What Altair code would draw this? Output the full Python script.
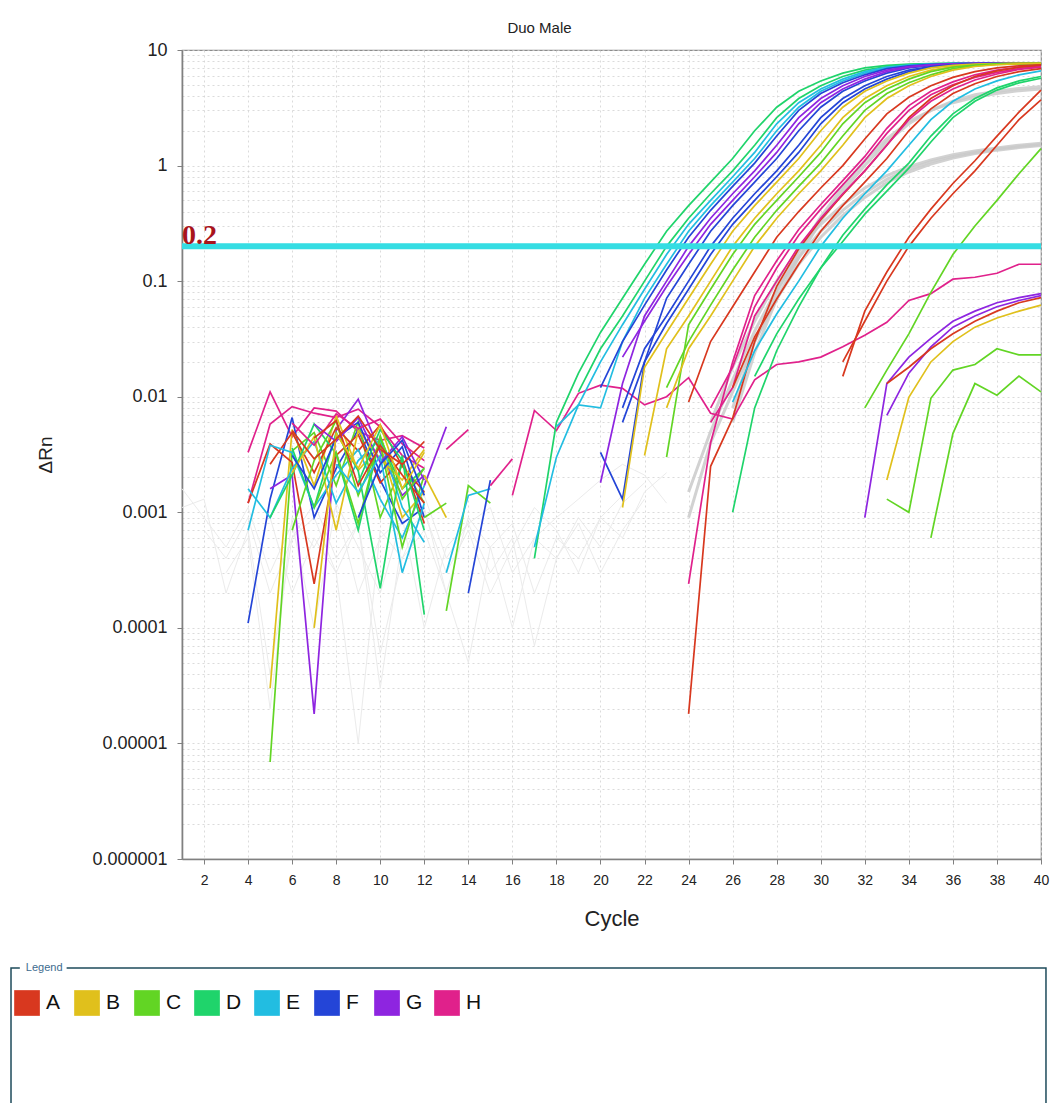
import altair as alt
import pandas as pd

# ---------------- data ----------------
ROWS = ["A", "B", "C", "D", "E", "F", "G", "H"]
ROW_COLORS = ["#d8381f", "#e0c01c", "#62d524", "#1fd46b", "#22bde1", "#2445d7", "#8e25e0", "#e0218b"]

CYCLE_TICKS = list(range(2, 41, 2))
DECADES = [0.000001, 0.00001, 0.0001, 0.001, 0.01, 0.1, 1, 10]
MINOR_STEPS = [1, 2, 3, 4, 5, 6, 7, 8, 9]
THRESHOLD = 0.2
THRESHOLD_TEXT = "0.2"

# (row, first cycle, delta Rn values per cycle)
AMPLIFIED = [
    ("D", 17, [0.0004, 0.006, 0.016, 0.036, 0.071, 0.14, 0.27, 0.45, 0.72, 1.15, 2.0, 3.2, 4.4, 5.4, 6.3, 7.0, 7.35, 7.55, 7.62, 7.65, 7.66, 7.67, 7.68, 7.68]),
    ("D", 19, [0.011, 0.026, 0.05, 0.1, 0.2, 0.35, 0.57, 0.9, 1.5, 2.6, 3.8, 4.9, 5.9, 6.7, 7.2, 7.45, 7.6, 7.65, 7.66, 7.67, 7.68, 7.68]),
    ("E", 18, [0.0055, 0.0085, 0.008, 0.03, 0.071, 0.14, 0.27, 0.45, 0.72, 1.15, 2.0, 3.2, 4.4, 5.4, 6.3, 7.0, 7.35, 7.55, 7.62, 7.65, 7.66, 7.67, 7.67]),
    ("E", 17, [0.0005, 0.003, 0.0085, 0.02, 0.042, 0.085, 0.17, 0.31, 0.5, 0.8, 1.3, 2.3, 3.5, 4.6, 5.6, 6.5, 7.1, 7.4, 7.58, 7.64, 7.66, 7.66, 7.67, 7.67]),
    ("F", 20, [0.012, 0.03, 0.062, 0.125, 0.24, 0.41, 0.66, 1.05, 1.8, 3.0, 4.2, 5.2, 6.1, 6.9, 7.3, 7.52, 7.62, 7.65, 7.67, 7.68, 7.68]),
    ("F", 20, [0.0033, 0.0013, 0.02, 0.071, 0.14, 0.27, 0.45, 0.72, 1.15, 2.0, 3.2, 4.4, 5.4, 6.3, 7.0, 7.35, 7.55, 7.62, 7.65, 7.66, 7.66]),
    ("G", 20, [0.0018, 0.013, 0.05, 0.1, 0.2, 0.35, 0.57, 0.9, 1.5, 2.6, 3.8, 4.9, 5.9, 6.7, 7.2, 7.45, 7.6, 7.65, 7.66, 7.67, 7.67]),
    ("G", 21, [0.022, 0.045, 0.09, 0.17, 0.31, 0.5, 0.8, 1.3, 2.3, 3.5, 4.6, 5.6, 6.5, 7.1, 7.4, 7.57, 7.63, 7.65, 7.66, 7.66]),
    ("F", 21, [0.008, 0.026, 0.05, 0.1, 0.2, 0.35, 0.57, 0.9, 1.5, 2.6, 3.8, 4.9, 5.9, 6.7, 7.2, 7.45, 7.6, 7.65, 7.66, 7.66]),
    ("F", 21, [0.006, 0.02, 0.043, 0.085, 0.17, 0.31, 0.5, 0.8, 1.3, 2.3, 3.5, 4.6, 5.6, 6.5, 7.1, 7.4, 7.58, 7.64, 7.66, 7.66]),
    ("B", 21, [0.0011, 0.018, 0.036, 0.071, 0.14, 0.27, 0.45, 0.72, 1.15, 2.0, 3.2, 4.4, 5.4, 6.3, 7.0, 7.35, 7.55, 7.62, 7.65, 7.66]),
    ("B", 22, [0.0031, 0.026, 0.05, 0.1, 0.2, 0.35, 0.57, 0.9, 1.5, 2.6, 3.8, 4.9, 5.9, 6.7, 7.2, 7.45, 7.6, 7.65, 7.66]),
    ("C", 23, [0.003, 0.042, 0.085, 0.17, 0.31, 0.5, 0.8, 1.3, 2.3, 3.5, 4.6, 5.6, 6.5, 7.1, 7.4, 7.58, 7.64, 7.66]),
    ("C", 23, [0.012, 0.03, 0.062, 0.125, 0.24, 0.41, 0.66, 1.05, 1.8, 3.0, 4.2, 5.2, 6.1, 6.9, 7.3, 7.5, 7.6, 7.63]),
    ("B", 23, [0.008, 0.026, 0.05, 0.1, 0.2, 0.35, 0.57, 0.9, 1.5, 2.6, 3.8, 4.9, 5.9, 6.7, 7.2, 7.45, 7.6, 7.65]),
    ("A", 24, [0.009, 0.03, 0.06, 0.12, 0.24, 0.4, 0.64, 1.0, 1.7, 2.8, 3.9, 4.9, 5.8, 6.5, 7.0, 7.3, 7.45]),
    ("H", 24, [0.00024, 0.004, 0.02, 0.075, 0.15, 0.28, 0.46, 0.74, 1.2, 2.1, 3.3, 4.4, 5.3, 6.1, 6.7, 7.1, 7.3]),
    ("H", 25, [0.008, 0.018, 0.06, 0.13, 0.25, 0.42, 0.68, 1.1, 1.9, 3.0, 4.1, 5.0, 5.8, 6.4, 6.9, 7.2]),
    ("A", 24, [0.000018, 0.0025, 0.0065, 0.03, 0.09, 0.19, 0.34, 0.56, 0.9, 1.5, 2.6, 3.8, 4.9, 5.9, 6.6, 7.1, 7.4]),
    ("H", 25, [0.006, 0.012, 0.05, 0.1, 0.2, 0.35, 0.57, 0.9, 1.5, 2.5, 3.6, 4.6, 5.5, 6.2, 6.8, 7.1]),
    ("A", 26, [0.012, 0.033, 0.07, 0.14, 0.27, 0.45, 0.72, 1.15, 2.0, 3.1, 4.2, 5.1, 5.9, 6.5, 6.9]),
    ("E", 26, [0.009, 0.025, 0.052, 0.1, 0.2, 0.35, 0.57, 0.9, 1.5, 2.5, 3.6, 4.6, 5.4, 6.1, 6.6]),
    ("D", 26, [0.001, 0.008, 0.025, 0.06, 0.13, 0.25, 0.42, 0.68, 1.05, 1.8, 2.8, 3.8, 4.7, 5.4, 5.9]),
    ("D", 27, [0.015, 0.035, 0.07, 0.13, 0.22, 0.38, 0.6, 0.95, 1.6, 2.6, 3.6, 4.5, 5.2, 5.7]),
    ("A", 31, [0.015, 0.055, 0.12, 0.24, 0.42, 0.7, 1.1, 1.8, 2.9, 4.5]),
    ("A", 31, [0.02, 0.045, 0.1, 0.2, 0.35, 0.57, 0.9, 1.5, 2.5, 3.7]),
    ("C", 32, [0.008, 0.017, 0.035, 0.08, 0.17, 0.3, 0.5, 0.85, 1.4]),
]

WEAK = [
    ("H", 16, [0.0014, 0.0076, 0.0051, 0.0107, 0.0126, 0.0118, 0.0085, 0.01, 0.0146, 0.0072, 0.0064, 0.014, 0.019, 0.02, 0.022, 0.027, 0.034, 0.044, 0.068, 0.078, 0.104, 0.108, 0.117, 0.14, 0.14]),
    ("G", 32, [0.0009, 0.013, 0.022, 0.032, 0.045, 0.055, 0.065, 0.072, 0.078]),
    ("G", 33, [0.0069, 0.016, 0.027, 0.04, 0.05, 0.06, 0.068, 0.075]),
    ("B", 33, [0.0019, 0.0099, 0.02, 0.03, 0.04, 0.048, 0.055, 0.062]),
    ("A", 33, [0.013, 0.018, 0.026, 0.035, 0.045, 0.055, 0.065, 0.072]),
    ("C", 33, [0.0013, 0.001, 0.0097, 0.017, 0.019, 0.026, 0.023, 0.023]),
    ("C", 35, [0.0006, 0.0048, 0.013, 0.0103, 0.0151, 0.011]),
]

BASELINE_NOISE = [
    ("H", 4, [0.0033, 0.011, 0.0045, 0.008, 0.0075, 0.005, 0.0042, 0.0046, 0.0036]),
    ("H", 4, [0.0012, 0.0058, 0.0082, 0.0072, 0.0066, 0.0078, 0.0055, 0.0031, 0.0024]),
    ("F", 4, [0.00011, 0.0013, 0.0066, 0.0009, 0.0024, 0.0052, 0.0019, 0.0008, 0.0011]),
    ("G", 5, [0.0016, 0.0021, 0.000018, 0.0052, 0.0095, 0.0033, 0.0014, 0.0021]),
    ("C", 5, [0.0000069, 0.0034, 0.0049, 0.0017, 0.0061, 0.0009, 0.0026, 0.0012]),
    ("B", 5, [0.00003, 0.0052, 0.0017, 0.0068, 0.0023, 0.0038, 0.0009, 0.0015]),
    ("A", 4, [0.0012, 0.0039, 0.0027, 0.00024, 0.0031, 0.0047, 0.0018, 0.0029, 0.0008]),
    ("A", 5, [0.0026, 0.0049, 0.0022, 0.0054, 0.0034, 0.0057, 0.0025, 0.0015]),
    ("E", 4, [0.0007, 0.0038, 0.0033, 0.0011, 0.0021, 0.0035, 0.0013, 0.0006, 0.0017]),
    ("E", 4, [0.0016, 0.0009, 0.0024, 0.0041, 0.0012, 0.0028, 0.0043, 0.0011, 0.00055]),
    ("D", 5, [0.0009, 0.0021, 0.0058, 0.0032, 0.0007, 0.0044, 0.0016, 0.0024]),
    ("D", 6, [0.0036, 0.0011, 0.0049, 0.0023, 0.00022, 0.0031, 0.00013]),
    ("C", 6, [0.0007, 0.0028, 0.0062, 0.0014, 0.0039, 0.0005, 0.0021]),
    ("B", 6, [0.0022, 0.0045, 0.0007, 0.0051, 0.0029, 0.0019, 0.0035]),
    ("F", 6, [0.0031, 0.0016, 0.0044, 0.006, 0.0022, 0.0037, 0.0009]),
    ("G", 7, [0.0058, 0.0041, 0.0066, 0.0027, 0.0045, 0.0019]),
    ("H", 6, [0.0059, 0.0038, 0.0071, 0.0053, 0.0064, 0.0039, 0.0028]),
    ("C", 7, [0.0011, 0.0033, 0.0008, 0.0046, 0.0013, 0.0024]),
    ("E", 8, [0.0026, 0.0015, 0.0031, 0.0003, 0.0012]),
    ("A", 7, [0.0044, 0.0062, 0.0017, 0.0038, 0.0021, 0.0012]),
    ("D", 9, [0.0018, 0.0052, 0.0028, 0.0007]),
    ("B", 7, [0.0001, 0.0048, 0.0024, 0.0057, 0.0016, 0.0033]),
    ("F", 9, [0.0009, 0.0026, 0.0042, 0.0014]),
    ("A", 6, [0.0051, 0.0029, 0.0043, 0.0068, 0.0035, 0.0026, 0.0041]),
    ("G", 12, [0.0017, 0.0055]),
    ("H", 13, [0.0035, 0.0052]),
    ("C", 13, [0.00014, 0.0017, 0.0012]),
    ("E", 13, [0.0003, 0.0014, 0.0016]),
    ("F", 14, [0.0002, 0.0019]),
    ("H", 15, [0.0017, 0.0029]),
    ("B", 12, [0.0021, 0.0009]),
    ("C", 12, [0.0009, 0.0012]),
]

# unselected wells, drawn in grey: (first cycle, values)
GREY_BASELINE = [
    (1, [0.0016, 0.0009, 0.0005, 0.0011, 0.0003, 0.0008, 0.0001, 0.0012, 0.0005, 0.0002, 0.0009, 0.0014, 0.0004, 0.0008, 0.0011, 0.0003, 0.0006, 0.0009, 0.0013, 0.0019, 0.0026, 0.0021, 0.0012]),
    (1, [0.0011, 0.0013, 0.0002, 0.0007, 0.00004, 0.0006, 0.0009, 0.0003, 0.00001, 0.0007, 0.0004, 0.0011, 0.0002, 0.00005, 0.0005, 0.0008, 0.0002, 0.0006, 0.0004, 0.0009, 0.0014]),
    (2, [0.0007, 0.0004, 0.0009, 0.0002, 0.0006, 0.0012, 0.0004, 0.0008, 0.00003, 0.0006, 0.001, 0.0003, 0.0007, 0.0002, 0.0005, 0.0011, 0.0007, 0.0003, 0.0009, 0.0006, 0.0015, 0.0022]),
    (3, [0.0003, 0.0006, 0.00002, 0.0009, 0.0005, 0.0011, 0.0002, 0.0006, 0.0009, 0.0001, 0.0005, 0.0008, 0.0003, 0.0006, 0.00007, 0.0004, 0.0009, 0.0005, 0.0012, 0.0018]),
    (5, [0.0009, 0.0002, 0.0006, 0.0003, 0.0008, 0.00006, 0.0004, 0.0007, 0.0002, 0.0009, 0.0005, 0.0001, 0.0006, 0.0004, 0.0008, 0.0003, 0.0007, 0.0013]),
]
GREY_AMPLIFIED = [
    (24, [0.0015, 0.005, 0.014, 0.037, 0.085, 0.16, 0.27, 0.41, 0.58, 0.76, 0.93, 1.08, 1.2, 1.3, 1.39, 1.46, 1.52]),
    (24, [0.0009, 0.004, 0.011, 0.03, 0.07, 0.14, 0.24, 0.37, 0.53, 0.71, 0.88, 1.03, 1.16, 1.27, 1.36, 1.43, 1.49]),
    (25, [0.006, 0.018, 0.045, 0.1, 0.19, 0.31, 0.46, 0.64, 0.82, 0.98, 1.12, 1.24, 1.34, 1.42, 1.5, 1.56]),
    (26, [0.008, 0.03, 0.08, 0.18, 0.36, 0.65, 1.1, 1.7, 2.4, 3.0, 3.5, 3.9, 4.2, 4.45, 4.6]),
    (26, [0.006, 0.024, 0.07, 0.16, 0.33, 0.6, 1.0, 1.6, 2.3, 3.0, 3.6, 4.1, 4.4, 4.65, 4.8]),
]

# legend layout (slots of the legend strip)
LEGEND_TITLE = "Legend"
LEGEND_SLOTS = list(range(len(ROWS)))

# ---------------- tables ----------------
def curves_table(curves, kind):
    recs = []
    for k, (row, start, vals) in enumerate(curves):
        for i, v in enumerate(vals):
            recs.append({"id": f"{kind}{k}", "row": row, "cycle": start + i, "dRn": v})
    return pd.DataFrame(recs)

def grey_table(curves, kind):
    recs = []
    for k, (start, vals) in enumerate(curves):
        for i, v in enumerate(vals):
            recs.append({"id": f"{kind}{k}", "cycle": start + i, "dRn": v})
    return pd.DataFrame(recs)

colored_df = pd.concat([
    curves_table(BASELINE_NOISE, "n"),
    curves_table(WEAK, "w"),
    curves_table(AMPLIFIED, "a"),
], ignore_index=True)
grey_base_df = grey_table(GREY_BASELINE, "gb")
grey_amp_df = grey_table(GREY_AMPLIFIED, "ga")

Y_GRID = [round(m * d, 12) for d in DECADES[:-1] for m in MINOR_STEPS] + [DECADES[-1]]

FONT = "Liberation Sans"
NARROW = "Liberation Sans Narrow, Liberation Sans, Arial, sans-serif"
DEC_TEST = "abs(log(datum.value) / LN10 - round(log(datum.value) / LN10)) < 0.001"

x_scale = alt.Scale(domain=[1, 40], nice=False, zero=False)
y_scale = alt.Scale(type="log", domain=[DECADES[0], DECADES[-1]], nice=False)

x_axis = alt.Axis(
    title="Cycle", values=CYCLE_TICKS, grid=True, gridDash=[2, 3], gridColor="#d2d2d2",
    gridWidth=0.8, tickSize=5, tickColor="#808080", domainColor="#808080", domainWidth=1.6,
    labelFont=NARROW, labelFontSize=14, labelColor="#222", labelPadding=9,
    labelFlush=False, labelOverlap=False,
    titleFont=NARROW, titleFontSize=22, titleFontWeight="normal", titleColor="#222", titlePadding=21,
)
y_axis = alt.Axis(
    title="ΔRn", values=Y_GRID,
    labelExpr=f"{DEC_TEST} ? format(datum.value, '.6~f') : ''",
    tickSize={"condition": {"test": DEC_TEST, "value": 5}, "value": 0},
    grid=True, gridDash=[2, 3], gridColor="#d2d2d2", gridWidth=0.8,
    tickColor="#808080", domainColor="#808080", domainWidth=1.6,
    labelFont=FONT, labelFontSize=18, labelColor="#222", labelPadding=10,
    labelOverlap=False, labelFlush=False,
    titleFont=FONT, titleFontSize=19, titleFontWeight="normal", titleColor="#222", titlePadding=36,
)

X = alt.X("cycle:Q", scale=x_scale, axis=x_axis)
Y = alt.Y("dRn:Q", scale=y_scale, axis=y_axis)
color_enc = alt.Color("row:N", scale=alt.Scale(domain=ROWS, range=ROW_COLORS), legend=None)

grey_base = alt.Chart(grey_base_df).mark_line(color="#ebebeb", strokeWidth=1).encode(
    x=X, y=Y, detail="id:N")
grey_amp = alt.Chart(grey_amp_df).mark_line(color="#cacaca", strokeWidth=3, opacity=0.85).encode(
    x=X, y=Y, detail="id:N")
colored = alt.Chart(colored_df).mark_line(strokeWidth=1.7).encode(
    x=X, y=Y, color=color_enc, detail="id:N")

thr_df = pd.DataFrame({"dRn": [THRESHOLD]})
thr_rule = alt.Chart(thr_df).mark_rule(color="#35dde3", strokeWidth=6).encode(y=Y)
thr_lbl_df = pd.DataFrame({"cycle": [1], "dRn": [THRESHOLD], "label": [THRESHOLD_TEXT]})
thr_label = alt.Chart(thr_lbl_df).mark_text(
    align="left", baseline="alphabetic", dy=-2, font="Liberation Serif", fontWeight="bold",
    fontSize=28, color="#a8141c",
).encode(x=X, y=Y, text="label:N")

plot = alt.layer(grey_base, grey_amp, colored, thr_rule, thr_label)

# ---------------- legend strip below the plot ----------------
LEG_X = alt.Scale(domain=[2.583, 16.9], nice=False, zero=False)
LEG_Y = alt.Scale(domain=[0, 80.9], reverse=True, nice=False, zero=False)

leg_df = pd.DataFrame({"row": ROWS, "slot": LEGEND_SLOTS, "level": [95.3] * len(ROWS)})
box_df = pd.DataFrame({"x0": [-0.267], "x1": [16.983], "y0": [91.8], "y1": [106.1]})
patch_df = pd.DataFrame({"x0": [-0.12], "x1": [0.66], "y0": [91.1], "y1": [92.5]})
title_df = pd.DataFrame({"x": [-0.02], "y": [91.8], "t": [LEGEND_TITLE]})

LX = lambda f: alt.X(f, scale=LEG_X, axis=None)
LY = lambda f: alt.Y(f, scale=LEG_Y, axis=None)

box = alt.Chart(box_df).mark_rect(fill="white", stroke="#1e4b5b", strokeWidth=1.5).encode(
    x=LX("x0:Q"), x2="x1:Q", y=LY("y0:Q"), y2="y1:Q")
patch = alt.Chart(patch_df).mark_rect(fill="white").encode(
    x=LX("x0:Q"), x2="x1:Q", y=LY("y0:Q"), y2="y1:Q")
leg_title = alt.Chart(title_df).mark_text(
    align="left", baseline="middle", fontSize=11, font=FONT, color="#3d6b8e").encode(
    x=LX("x:Q"), y=LY("y:Q"), text="t:N")
swatches = alt.Chart(leg_df).mark_square(size=660, opacity=1, strokeWidth=0).encode(
    x=LX("slot:Q"), y=LY("level:Q"), color=color_enc)
sw_labels = alt.Chart(leg_df).mark_text(
    align="left", baseline="middle", dx=19, fontSize=21, font=FONT, color="#111").encode(
    x=LX("slot:Q"), y=LY("level:Q"), text="row:N")

legend_strip = alt.layer(box, patch, leg_title, swatches, sw_labels)

chart = alt.layer(plot, legend_strip).resolve_scale(
    x="independent", y="independent", color="shared"
).properties(
    width=859, height=809,
    title=alt.TitleParams("Duo Male", fontSize=15, font=FONT, fontWeight="normal", color="#222",
                          anchor="middle", frame="group", dx=-72, offset=5),
    padding={"left": 10, "top": 21, "right": 2, "bottom": 0},
).configure_view(stroke="#8c8c8c", strokeWidth=1.2)

chart.save("out.html", embed_options={"renderer": "svg", "actions": False})
